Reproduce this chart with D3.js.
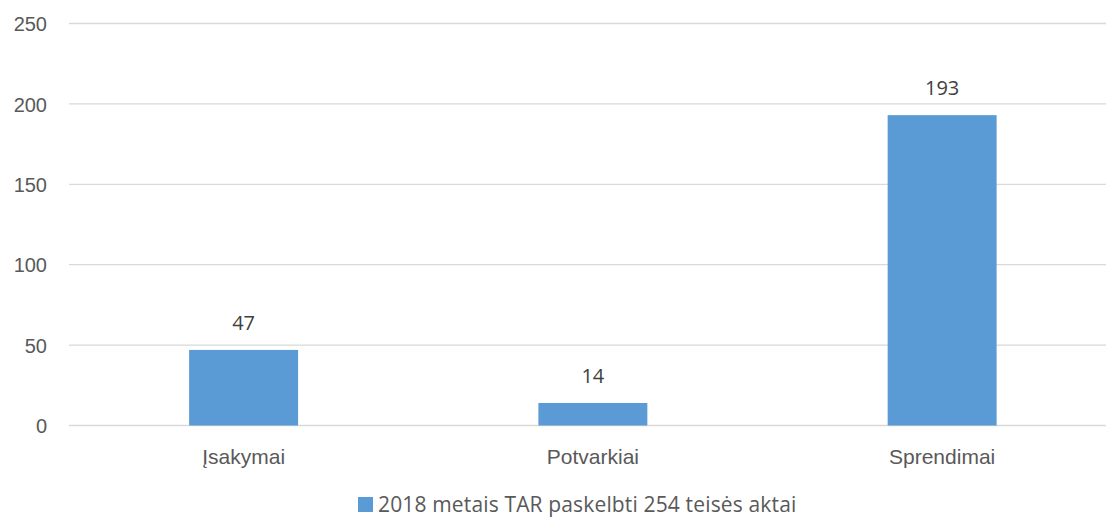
<!DOCTYPE html>
<html>
<head>
<meta charset="utf-8">
<script src="https://cdn.jsdelivr.net/npm/d3@7"></script>
<style>
  body { margin: 0; background: #fff; }
  svg { display: block; font-family: "Open Sans", "Liberation Sans", sans-serif; }
</style>
</head>
<body>
<div id="main"></div>
<script>
const categories = ["Įsakymai", "Potvarkiai", "Sprendimai"];
const values = [47, 14, 193];
const yTicks = [0, 50, 100, 150, 200, 250];
const seriesName = "2018 metais TAR paskelbti 254 teisės aktai";

const width = 1106, height = 518;
const svg = d3.select("#main").append("svg")
    .attr("width", width)
    .attr("height", height);

const x = d3.scaleBand()
    .domain(categories)
    .range([69, 69 + 3 * 349.25])
    .paddingInner(0.688)
    .paddingOuter(0.344);

const y = d3.scaleLinear()
    .domain([0, 250])
    .range([425.5, 23.5]);

// gridlines
svg.append("g")
    .selectAll("line")
    .data(yTicks)
    .join("line")
    .attr("x1", 69)
    .attr("x2", width)
    .attr("y1", d => y(d))
    .attr("y2", d => y(d))
    .attr("stroke", "#d9d9d9")
    .attr("stroke-width", 1.3);

// y axis labels
const yAxis = svg.append("g")
    .attr("transform", "translate(47,0)")
    .call(d3.axisLeft(y).tickValues(yTicks).tickSize(0).tickPadding(0));
yAxis.select(".domain").remove();
yAxis.selectAll("text")
    .attr("fill", "#595959")
    .style("font-size", "20px")
    .attr("dy", "0.36em");

// bars
svg.append("g")
    .selectAll("rect")
    .data(values)
    .join("rect")
    .attr("x", (d, i) => x(categories[i]))
    .attr("width", x.bandwidth())
    .attr("y", d => y(d))
    .attr("height", d => y(0) - y(d))
    .attr("fill", "#5b9bd5");

// value labels
svg.append("g")
    .selectAll("text")
    .data(values)
    .join("text")
    .attr("x", (d, i) => x(categories[i]) + x.bandwidth() / 2)
    .attr("y", d => y(d) - 20)
    .attr("text-anchor", "middle")
    .attr("fill", "#404040")
    .style("font-size", "20px")
    .text(d => d);

// x axis labels
const xAxis = svg.append("g")
    .attr("transform", "translate(0,464)")
    .call(d3.axisBottom(x).tickSize(0).tickPadding(0));
xAxis.select(".domain").remove();
xAxis.selectAll("text")
    .attr("fill", "#595959")
    .style("font-size", "21px")
    .attr("y", 0)
    .attr("dy", 0);

// legend (kept just inside the bottom edge)
const legend = svg.append("g");
legend.append("rect")
    .attr("x", 358)
    .attr("y", 497)
    .attr("width", 15)
    .attr("height", 15)
    .attr("fill", "#5b9bd5");
legend.append("text")
    .attr("x", 378)
    .attr("y", 512)
    .attr("fill", "#595959")
    .style("font-size", "21px")
    .style("letter-spacing", "0.15px")
    .text(seriesName);
</script>
</body>
</html>
